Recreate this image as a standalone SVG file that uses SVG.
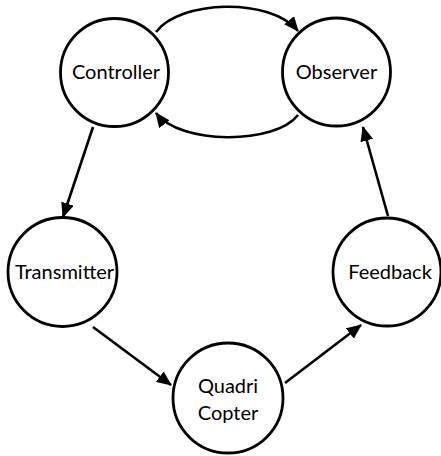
<svg xmlns="http://www.w3.org/2000/svg" width="441" height="456" viewBox="0 0 441 456">
  <style>
    .node circle { fill: #fff; stroke: #000; stroke-width: 2.8; }
    .node text { font-family: Lato, "Liberation Sans", sans-serif; font-size: 20px; fill: #000; text-anchor: middle; }
    .edge { fill: none; stroke: #000; stroke-width: 2.6; marker-end: url(#arrow); }
  </style>
  <defs>
    <marker id="arrow" markerUnits="userSpaceOnUse" markerWidth="15" markerHeight="13" refX="14" refY="6.5" orient="auto">
      <path d="M0,0 L15,6.5 L0,13 z" fill="#000"/>
    </marker>
  </defs>
  <rect width="441" height="456" fill="#fff"/>
  <g id="connectors">
    <path class="edge" d="M156,32 C180,0 270,-3 298,31"/>
    <path class="edge" d="M298,115 C275,145 180,145 156,113"/>
    <path class="edge" d="M93,127 L63,217"/>
    <path class="edge" d="M388,216 L363,127"/>
    <path class="edge" d="M93,327 L171,385"/>
    <path class="edge" d="M285,383 L361,325"/>
  </g>
  <g id="controller" class="node">
    <circle cx="114.5" cy="72.5" r="54"/>
    <text x="116" y="79">Controller</text>
  </g>
  <g id="observer" class="node">
    <circle cx="336.5" cy="72" r="54"/>
    <text x="336.5" y="79">Observer</text>
  </g>
  <g id="transmitter" class="node">
    <circle cx="62.5" cy="272" r="54.5"/>
    <text x="64.5" y="279">Transmitter</text>
  </g>
  <g id="feedback" class="node">
    <circle cx="387" cy="272" r="54"/>
    <text x="390" y="279">Feedback</text>
  </g>
  <g id="quadricopter" class="node">
    <circle cx="228" cy="398" r="55"/>
    <text x="228" y="393">Quadri</text>
    <text x="228" y="420">Copter</text>
  </g>
</svg>
